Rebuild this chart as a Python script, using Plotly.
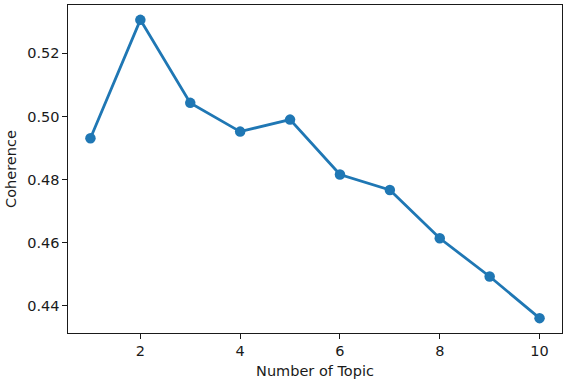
import plotly.graph_objects as go

topics = [1, 2, 3, 4, 5, 6, 7, 8, 9, 10]
coherence = [0.4931, 0.5306, 0.5043, 0.4952, 0.4990, 0.4816, 0.4767, 0.4614, 0.4493, 0.4361]
x_ticks = [2, 4, 6, 8, 10]
y_ticks = [0.44, 0.46, 0.48, 0.50, 0.52]
y_tick_labels = ["0.44", "0.46", "0.48", "0.50", "0.52"]

FS = 14.5
fig = go.Figure(go.Scatter(
    x=topics, y=coherence, mode="lines+markers",
    line=dict(color="#1f77b4", width=2.8),
    marker=dict(color="#1f77b4", size=10.5),
))

axis_common = dict(
    showline=True, linecolor="#1a1a1a", linewidth=1.1, mirror=True,
    ticks="outside", ticklen=4.5, tickwidth=1.1, tickcolor="#1a1a1a",
    showgrid=False, zeroline=False,
    tickfont=dict(family="DejaVu Sans", size=FS, color="#1a1a1a"),
)

fig.update_layout(
    width=567, height=384,
    margin=dict(l=67.5, r=4.7, t=5, b=50.7),
    paper_bgcolor="white", plot_bgcolor="white",
    showlegend=False,
    font=dict(family="DejaVu Sans", size=FS, color="#1a1a1a"),
    xaxis=dict(range=[0.55, 10.45], tickvals=x_ticks,
               title=dict(text="Number of Topic", standoff=7,
                          font=dict(family="DejaVu Sans", size=FS, color="#1a1a1a")),
               **axis_common),
    yaxis=dict(range=[0.4314, 0.5353], tickvals=y_ticks, ticktext=y_tick_labels,
               title=dict(text="Coherence", standoff=7,
                          font=dict(family="DejaVu Sans", size=FS, color="#1a1a1a")),
               **axis_common),
)

fig.write_html("out.html")
